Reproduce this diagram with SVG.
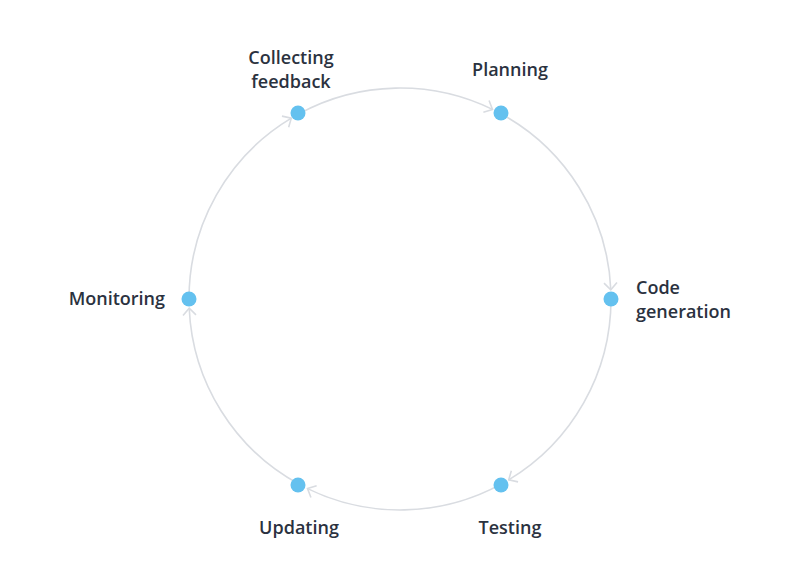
<svg xmlns="http://www.w3.org/2000/svg" width="800" height="580" viewBox="0 0 800 580">
<style>
.arc{fill:none;stroke:#d9dce1;stroke-width:1.6}
.node{fill:#64c1ef}
.lbl{font-family:"Open Sans","Noto Sans",sans-serif;font-size:18px;font-weight:600;fill:#2b3240}
</style>
<defs>
<marker id="chev" markerUnits="userSpaceOnUse" markerWidth="14" markerHeight="16" refX="10" refY="8" orient="auto">
<path d="M3,1.5 L10,8 L3,14.5" fill="none" stroke="#d9dce1" stroke-width="1.6"/>
</marker>
</defs>
<rect width="800" height="580" fill="#ffffff"/>
<g id="connectors">
<path class="arc" marker-end="url(#chev)" d="M299.3,113.6 A211,211 0 0 1 492.5,109.4"/>
<path class="arc" marker-end="url(#chev)" d="M500.7,113.6 A211,211 0 0 1 610.8,289.8"/>
<path class="arc" marker-end="url(#chev)" d="M611,299 A211,211 0 0 1 508.7,479.9"/>
<path class="arc" marker-end="url(#chev)" d="M500.7,484.4 A211,211 0 0 1 307.5,488.6"/>
<path class="arc" marker-end="url(#chev)" d="M299.3,484.4 A211,211 0 0 1 189.2,308.2"/>
<path class="arc" marker-end="url(#chev)" d="M189,299 A211,211 0 0 1 291.3,118.1"/>
</g>
<g id="planning"><circle class="node" cx="501" cy="113" r="7.5"/><text class="lbl" x="510" y="76" text-anchor="middle">Planning</text></g>
<g id="code-generation"><circle class="node" cx="611" cy="299" r="7.5"/><text class="lbl" x="636" y="294">Code</text><text class="lbl" x="636" y="318">generation</text></g>
<g id="testing"><circle class="node" cx="501" cy="485" r="7.5"/><text class="lbl" x="510" y="534" text-anchor="middle">Testing</text></g>
<g id="updating"><circle class="node" cx="298" cy="485" r="7.5"/><text class="lbl" x="299" y="534" text-anchor="middle">Updating</text></g>
<g id="monitoring"><circle class="node" cx="189" cy="299" r="7.5"/><text class="lbl" x="165" y="305" text-anchor="end">Monitoring</text></g>
<g id="collecting-feedback"><circle class="node" cx="298" cy="113" r="7.5"/><text class="lbl" x="291" y="64" text-anchor="middle">Collecting</text><text class="lbl" x="291" y="88" text-anchor="middle">feedback</text></g>
</svg>
